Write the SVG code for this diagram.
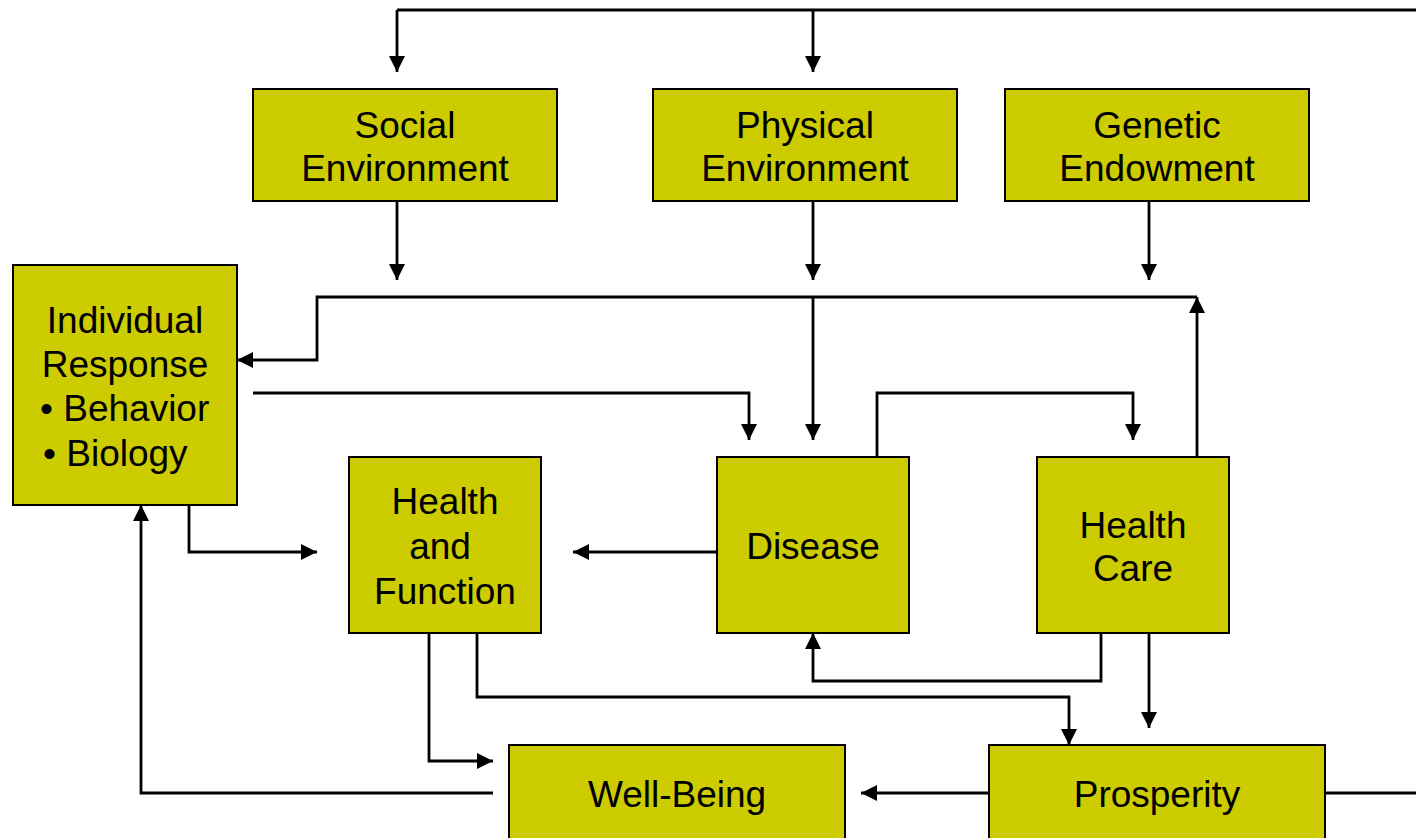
<svg xmlns="http://www.w3.org/2000/svg" width="1416" height="838" viewBox="0 0 1416 838">
<style>
.box{fill:#cccc00;stroke:#000;stroke-width:2}
.t{font-family:"Liberation Sans",Arial,sans-serif;font-size:37px;fill:#000;text-anchor:middle}
.l{font-family:"Liberation Sans",Arial,sans-serif;font-size:37px;fill:#000}
.c{fill:none;stroke:#000;stroke-width:2.8}
.a{fill:none;stroke:#000;stroke-width:2.8;marker-end:url(#ah)}
</style>
<defs>
<marker id="ah" viewBox="0 0 10 10" refX="10" refY="5" markerWidth="16" markerHeight="16" markerUnits="userSpaceOnUse" orient="auto">
<path d="M0,0 L10,5 L0,10 z" fill="#000"/>
</marker>
</defs>
<rect width="1416" height="838" fill="#fff"/>
<g id="connectors">
<path class="c" d="M397,10 H1416"/>
<path class="a" d="M397,10 V72"/>
<path class="a" d="M813,10 V72"/>
<path class="c" d="M1325,793 H1416"/>
<path class="a" d="M397,201 V280"/>
<path class="a" d="M813,201 V280"/>
<path class="a" d="M1149,201 V280"/>
<path class="a" d="M1197,457 V297"/>
<path class="a" d="M1197,297 H317 V360 H237"/>
<path class="a" d="M813,297 V440"/>
<path class="a" d="M253,393 H749 V440"/>
<path class="a" d="M877,457 V393 H1133 V440"/>
<path class="a" d="M189,505 V552 H317"/>
<path class="a" d="M717,552 H573"/>
<path class="a" d="M1101,633 V681 H813 V633"/>
<path class="a" d="M477,633 V697 H1069 V745"/>
<path class="a" d="M429,633 V761 H493"/>
<path class="a" d="M1149,633 V728"/>
<path class="a" d="M989,793 H861"/>
<path class="a" d="M493,793 H141 V505"/>
</g>
<g id="social">
<rect class="box" x="253" y="89" width="304" height="112"/>
<text class="t" x="405" y="138">Social</text>
<text class="t" x="405" y="181">Environment</text>
</g>
<g id="physical">
<rect class="box" x="653" y="89" width="304" height="112"/>
<text class="t" x="805" y="138">Physical</text>
<text class="t" x="805" y="181">Environment</text>
</g>
<g id="genetic">
<rect class="box" x="1005" y="89" width="304" height="112"/>
<text class="t" x="1157" y="138">Genetic</text>
<text class="t" x="1157" y="181">Endowment</text>
</g>
<g id="individual">
<rect class="box" x="13" y="265" width="224" height="240"/>
<text class="t" x="125" y="333">Individual</text>
<text class="t" x="125" y="377">Response</text>
<text class="l" x="40" y="421">• Behavior</text>
<text class="l" x="43" y="466">• Biology</text>
</g>
<g id="health-function">
<rect class="box" x="349" y="457" width="192" height="176"/>
<text class="t" x="445" y="514">Health</text>
<text class="t" x="440" y="559">and</text>
<text class="t" x="445" y="604">Function</text>
</g>
<g id="disease">
<rect class="box" x="717" y="457" width="192" height="176"/>
<text class="t" x="813" y="559">Disease</text>
</g>
<g id="health-care">
<rect class="box" x="1037" y="457" width="192" height="176"/>
<text class="t" x="1133" y="538">Health</text>
<text class="t" x="1133" y="581">Care</text>
</g>
<g id="well-being">
<rect class="box" x="509" y="745" width="336" height="110"/>
<text class="t" x="677" y="807">Well-Being</text>
</g>
<g id="prosperity">
<rect class="box" x="989" y="745" width="336" height="110"/>
<text class="t" x="1157" y="807">Prosperity</text>
</g>
</svg>
